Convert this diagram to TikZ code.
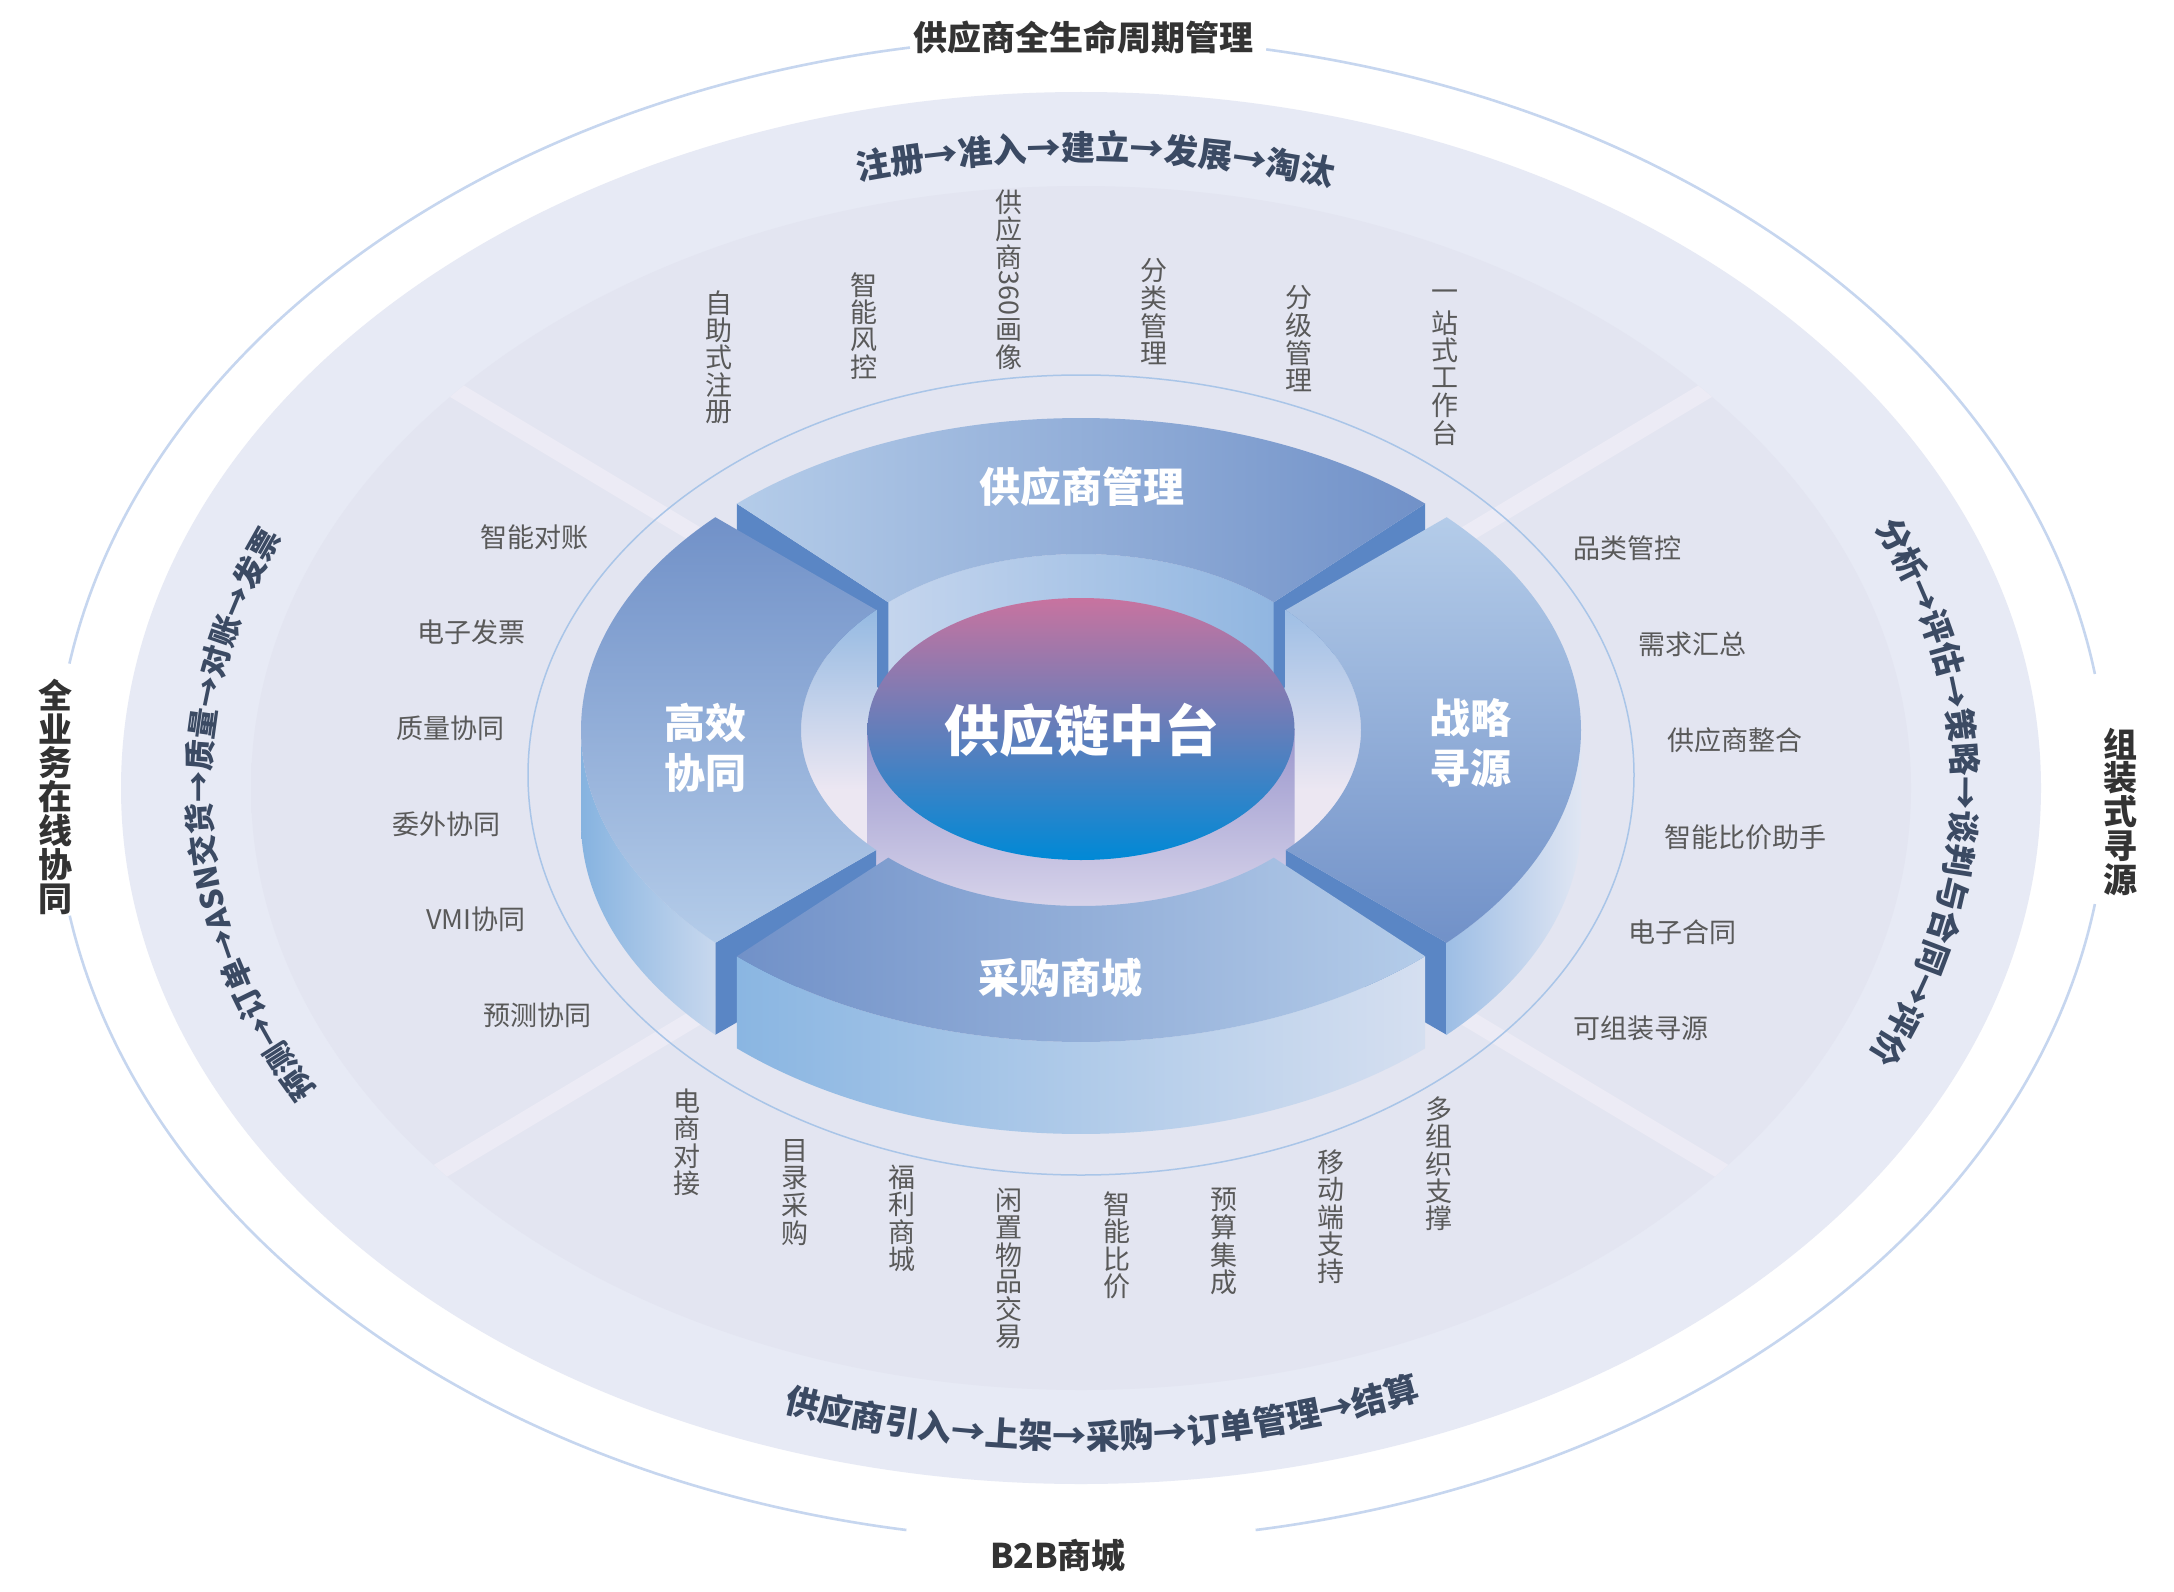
\documentclass[tikz,border=0pt]{standalone}
\usepackage{fontspec}
\setmainfont{Noto Sans CJK SC}
\usetikzlibrary{decorations.text}
\definecolor{bigell}{HTML}{E7EAF5}
\definecolor{secin}{HTML}{E3E5F1}
\definecolor{secout}{HTML}{D8DEEF}
\definecolor{bandc}{HTML}{ECEBF5}
\definecolor{thinl}{HTML}{A9C5E8}
\definecolor{outl}{HTML}{C6D6EF}
\definecolor{labgray}{HTML}{595959}
\definecolor{slate}{HTML}{3B4A63}
\definecolor{ttlc}{HTML}{333333}
\definecolor{faceL}{HTML}{B4CCE9}
\definecolor{faceD}{HTML}{7191C8}
\definecolor{endc}{HTML}{5A86C5}
\definecolor{floorc}{HTML}{ECE7F2}
\definecolor{wallL}{HTML}{90B7E1}
\definecolor{wallR}{HTML}{9ABCE4}
\definecolor{wallTL}{HTML}{C6D6EE}
\definecolor{wallTR}{HTML}{8FB5E0}
\definecolor{cylT}{HTML}{9B97CD}
\definecolor{cylB}{HTML}{EFECF6}
\definecolor{diskT}{HTML}{C8739F}
\definecolor{diskM}{HTML}{5580C5}
\definecolor{diskB}{HTML}{0089D6}
\definecolor{owLa}{HTML}{86B3E0}
\definecolor{owLb}{HTML}{C8D8EE}
\definecolor{owRa}{HTML}{9DBEE5}
\definecolor{owRb}{HTML}{E0E6F3}
\definecolor{owBa}{HTML}{8AB6E2}
\definecolor{owBb}{HTML}{D5DFF0}
\pgfdeclareradialshading{secshade}{\pgfpoint{0bp}{0bp}}{color(0bp)=(secin); color(33bp)=(secin); color(50bp)=(secout)}
\newcommand\fsz[1]{\fontsize{#1}{#1}\selectfont}
\newcommand\curvefont{\bfseries\fontsize{34}{34}\selectfont}
\newcommand\curvefontL{\bfseries\fontsize{31}{31}\selectfont}
\newcommand\curvefontR{\bfseries\fontsize{33}{33}\selectfont}
\newcommand\vstack[6]{\foreach \ch [count=\k from 0] in {#6} {\node[#2] (#1-\k) at (#3, #4+\k*#5) {\ch};}}
\newcommand\segface[3]{\path[#1] ([shift={(C)}]#2:500 and 312) arc[start angle=#2, end angle=#3, x radius=500, y radius=312] -- ([shift={(C)}]#3:280 and 176) arc[start angle=#3, end angle=#2, x radius=280, y radius=176] -- cycle;}
\newcommand\segwall[3]{\path[#1] ([shift={(C)}]#2:500 and 312) arc[start angle=#2, end angle=#3, x radius=500, y radius=312] -- ++(0,92) arc[start angle=#3, end angle=#2, x radius=500, y radius=312] -- cycle;}
\newcommand\segend[1]{\fill[endc] ([shift={(C)}]#1:500 and 312) -- ([shift={(C)}]#1:280 and 176) -- ([shift={(Cd)}]#1:280 and 176) -- ([shift={(Cd)}]#1:500 and 312) -- cycle;}
\tikzset{
  lab/.style={font=\fsz{27}, text=labgray, inner sep=0pt},
  ttl/.style={font=\bfseries\fsz{34}, text=ttlc, inner sep=0pt},
  ringlab/.style={font=\bfseries\fsz{41}, text=white, inner sep=0pt},
  outline/.style={draw=outl, line width=2.6pt},
  bandline/.style={draw=bandc, line width=17pt},
  curved/.style={decorate, decoration={text along path, text align=center, text color=slate, text={#1}}}
}
\begin{document}
\begin{tikzpicture}[x=1pt, y=-1pt]
\useasboundingbox (0,0) rectangle (2174,1592);
\fill[white] (0,0) rectangle (2174,1592);

% outer thin ring with gaps
\draw[outline] ([shift={(1081,789)}]8.8:1026 and 752) arc[start angle=8.8, end angle=80.2, x radius=1026, y radius=752];
\draw[outline] ([shift={(1081,789)}]99.8:1026 and 752) arc[start angle=99.8, end angle=170.3, x radius=1026, y radius=752];
\draw[outline] ([shift={(1081,789)}]189.6:1026 and 752) arc[start angle=189.6, end angle=260.4, x radius=1026, y radius=752];
\draw[outline] ([shift={(1081,789)}]280.4:1026 and 752) arc[start angle=280.4, end angle=351.2, x radius=1026, y radius=752];

% big filled ellipse
\fill[bigell] (1081,788) ellipse [x radius=960, y radius=696];
% sector ellipse
\path[shade, shading=secshade] (1081,788) ellipse [x radius=830, y radius=602];
\fill[secin] (1081,775) ellipse [x radius=553, y radius=400];
\begin{scope}
  \clip (1081,788) ellipse [x radius=830, y radius=602];
  \draw[bandline] (420,369) -- (760,573);
  \draw[bandline] (1742,369) -- (1402,573);
  \draw[bandline] (400,1195) -- (760,979);
  \draw[bandline] (1762,1195) -- (1402,979);
\end{scope}
\draw[thinl, line width=1.5pt] (1081,775) ellipse [x radius=553, y radius=400];

% curved process texts
\path[curved={|\curvefont|注册→准入→建立→发展→淘汰}] ([shift={(1081,788)}]241:869 and 628) arc[start angle=241, end angle=301, x radius=869, y radius=628];
\path[curved={|\curvefontL|预测→订单→ASN交货→质量→对账→发票}] ([shift={(1081,788)}]142.5:871 and 630) arc[start angle=142.5, end angle=212.5, x radius=871, y radius=630];
\path[curved={|\curvefontR|分析→评估→策略→谈判与合同→评价}] ([shift={(1081,788)}]-34.6:872 and 629) arc[start angle=-34.6, end angle=35.4, x radius=872, y radius=629];
\path[curved={|\curvefont|供应商引入→上架→采购→订单管理→结算}] ([shift={(1081,788)}]118.5:895 and 661) arc[start angle=118.5, end angle=58.5, x radius=895, y radius=661];

% left labels
\node[lab, anchor=east] (l1) at (589,537) {智能对账};
\node[lab, anchor=east] (l2) at (526,632) {电子发票};
\node[lab, anchor=east] (l3) at (505,728) {质量协同};
\node[lab, anchor=east] (l4) at (501,824) {委外协同};
\node[lab, anchor=east] (l5) at (526,919) {VMI协同};
\node[lab, anchor=east] (l6) at (592,1015) {预测协同};
% right labels
\node[lab, anchor=west] (r1) at (1573,548) {品类管控};
\node[lab, anchor=west] (r2) at (1638,644) {需求汇总};
\node[lab, anchor=west] (r3) at (1667,740) {供应商整合};
\node[lab, anchor=west] (r4) at (1664,837) {智能比价助手};
\node[lab, anchor=west] (r5) at (1628,932) {电子合同};
\node[lab, anchor=west] (r6) at (1573,1028) {可组装寻源};
% top vertical labels
\vstack{tv1}{lab}{719}{303}{27.4}{自,助,式,注,册}
\vstack{tv2}{lab}{864}{285}{27.4}{智,能,风,控}
\vstack{tv3}{lab}{1009}{202}{27.4}{供,应,商}
\node[lab, rotate=-90] (tv3-num) at (1009,293) {360};
\vstack{tv3b}{lab}{1009}{330}{27.4}{画,像}
\vstack{tv4}{lab}{1154}{271}{27.4}{分,类,管,理}
\vstack{tv5}{lab}{1299}{298}{27.4}{分,级,管,理}
\vstack{tv6}{lab}{1445}{296}{27.4}{一,站,式,工,作,台}
% bottom vertical labels
\vstack{bv1}{lab}{687}{1101}{27.4}{电,商,对,接}
\vstack{bv2}{lab}{795}{1151}{27.4}{目,录,采,购}
\vstack{bv3}{lab}{902}{1177}{27.4}{福,利,商,城}
\vstack{bv4}{lab}{1009}{1200}{27.4}{闲,置,物,品,交,易}
\vstack{bv5}{lab}{1117}{1204}{27.4}{智,能,比,价}
\vstack{bv6}{lab}{1224}{1200}{27.4}{预,算,集,成}
\vstack{bv7}{lab}{1331}{1162}{27.4}{移,动,端,支,持}
\vstack{bv8}{lab}{1439}{1109}{27.4}{多,组,织,支,撑}

% ===== 3D ring =====
\coordinate (C) at (1081,730);
\coordinate (Cd) at (1081,822);
\begin{scope}
  \clip (C) ellipse [x radius=280, y radius=176];
  \fill[floorc] (790,540) rectangle (1370,920);
  \path[left color=wallTL, right color=wallTR] (876,545) rectangle (1286,720);
\end{scope}
\segend{226.5}
\segend{313.5}
\begin{scope}
  \clip (C) ellipse [x radius=280, y radius=176];
  \path[top color=wallL, bottom color=floorc] (795,600) rectangle (876.5,790);
  \path[top color=wallR, bottom color=floorc] (1285.5,600) rectangle (1367,790);
\end{scope}
% central cylinder
\path[top color=cylT, bottom color=cylB] (867.5,729) -- (867.5,849) arc[start angle=180, end angle=0, x radius=213.5, y radius=131] -- (1294.5,729) -- cycle;
\path[top color=diskT, middle color=diskM, bottom color=diskB] (1081,729) ellipse [x radius=213.5, y radius=131];
% top segment
\segface{left color=faceL, right color=faceD}{226.5}{313.5}
% left & right segments
\segend{137}
\segend{43}
\segwall{left color=owLa, right color=owLb}{137}{180}
\segface{top color=faceD, bottom color=faceL}{137}{223}
\segwall{left color=owRa, right color=owRb}{0}{43}
\segface{top color=faceL, bottom color=faceD}{-43}{43}
% bottom segment
\segwall{left color=owBa, right color=owBb}{46.5}{133.5}
\segface{left color=faceD, right color=faceL}{46.5}{133.5}

% ring labels
\node[ringlab] (rl-top) at (1082,487) {供应商管理};
\node[ringlab] (rl-l1) at (705,723) {高效};
\node[ringlab] (rl-l2) at (705,773) {协同};
\node[ringlab] (rl-r1) at (1470,718) {战略};
\node[ringlab] (rl-r2) at (1470,768) {寻源};
\node[ringlab] (rl-bot) at (1060,978) {采购商城};
\node[font=\bfseries\fsz{55}, text=white, inner sep=0pt] (core) at (1082,730) {供应链中台};

% outer titles
\node[ttl] (t-top) at (1083,37) {供应商全生命周期管理};
\node[ttl] (t-bot) at (1058,1555) {B2B商城};
\vstack{tl}{ttl}{55}{695}{34}{全,业,务,在,线,协,同}
\vstack{tr}{ttl}{2120}{744}{34}{组,装,式,寻,源}
\end{tikzpicture}
\end{document}
